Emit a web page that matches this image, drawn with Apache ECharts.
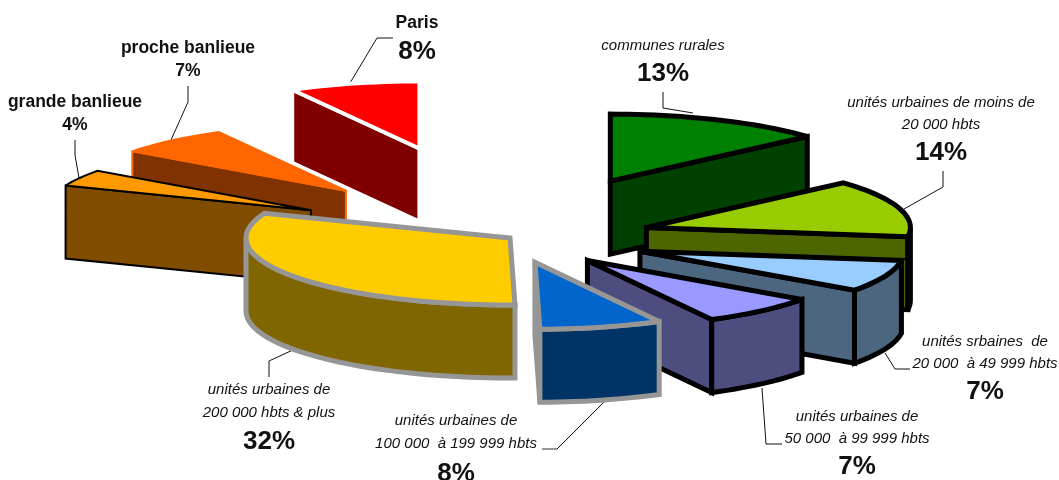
<!DOCTYPE html>
<html>
<head>
<meta charset="utf-8">
<style>html,body{margin:0;padding:0;background:#fff}#chart{width:1059px;height:480px}</style>
<script src="https://cdn.jsdelivr.net/npm/echarts@6/dist/echarts.min.js"></script>
</head>
<body>
<div id="chart"></div>
<script>
// slices clockwise from 12 o'clock
const categories = [
  'communes rurales',
  'unités urbaines de moins de\n20 000 hbts',
  'unités srbaines  de\n20 000  à 49 999 hbts',
  'unités urbaines de\n50 000  à 99 999 hbts',
  'unités urbaines de\n100 000  à 199 999 hbts',
  'unités urbaines de\n200 000 hbts & plus',
  'grande banlieue',
  'proche banlieue',
  'Paris'
];
// the percentages printed on the chart
const shares = [13, 14, 7, 7, 8, 32, 4, 7, 8];
// slice sizes as measured on the picture (the printed ones are rounded)
const sliceSizes = [13.4, 13.8, 7.7, 7.3, 7.5, 31.3, 4, 7, 8];

// how far each slice is pulled out, as a fraction of the radius
const explode = [0.93, 0.54, 0.53, 0.445, 0.375, 0, 0.86, 0.94, 1.38];

const topColors = ['#008000', '#99cc00', '#99ccff', '#9999ff', '#0066cc', '#ffcc00', '#ff9900', '#ff6600', '#ff0000'];
const wallColors = ['#004000', '#4d6600', '#4d6680', '#4d4d80', '#003366', '#806600', '#804d00', '#803300', '#800000'];
const borderColors = ['#000', '#000', '#000', '#000', '#969696', '#969696', '#000', '#ff6600', '#fff'];
const borderWidths = [5, 5, 5, 5, 5, 5, 2, 2, 4];

// projection of the pie
const cx = 510, cy = 238, rx = 264, ry = 67, depth = 73;

const total = sliceSizes.reduce((a, b) => a + b, 0);
let acc = 0;
const startAngles = [], endAngles = [];
sliceSizes.forEach((v) => {
  startAngles.push(acc / total * 360);
  acc += v;
  endAngles.push(acc / total * 360);
});

const rad = (d) => d * Math.PI / 180;
const apexOf = (i) => {
  const mid = rad((startAngles[i] + endAngles[i]) / 2);
  return [cx + explode[i] * rx * Math.sin(mid), cy - explode[i] * ry * Math.cos(mid)];
};

// back slices first
const drawOrder = shares.map((v, i) => i).sort((a, b) => apexOf(a)[1] - apexOf(b)[1]);

// label placement: [x, y of first line, line gap, y of percent]
const labelPos = [
  [663, 46, 0, 74], [941, 103, 22, 153], [985, 342, 22, 392],
  [857, 417, 22, 467], [456, 421, 23, 474], [269, 390, 23, 442],
  [75, 102, 0, 125], [188, 48, 0, 71], [417, 23, 0, 52]
];
const boldName = [false, false, false, false, false, false, true, true, true];
const percentSize = [26, 26, 26, 26, 26, 26, 17.5, 17.5, 26];
const leaders = [
  [[663, 92], [663, 108], [693, 113]],
  [[943, 171], [943, 187], [904, 209]],
  [[885, 353], [895, 369], [910, 369]],
  [[762, 388], [766, 444], [782, 444]],
  [[557, 449], [604, 402]],
  [[295, 349], [269, 361], [269, 377]],
  [[79, 178], [75, 155], [75, 140]],
  [[171, 140], [188, 102], [188, 86]],
  [[350, 83], [377, 38], [393, 38]]
];

function renderSlice(params, api) {
  const i = api.value(0);
  const a0 = startAngles[i], a1 = endAngles[i];
  const apex = apexOf(i);
  const pt = (deg, dz) => [
    apex[0] + rx * Math.sin(rad(deg)),
    apex[1] - ry * Math.cos(rad(deg)) + (dz || 0)
  ];
  const arc = (from, to, dz) => {
    const pts = [];
    const n = Math.max(2, Math.ceil((to - from) / 2));
    for (let k = 0; k <= n; k++) pts.push(pt(from + (to - from) * k / n, dz));
    return pts;
  };
  const down = (p) => [p[0], p[1] + depth];
  const base = {
    fill: wallColors[i],
    stroke: borderColors[i],
    lineWidth: borderWidths[i],
    lineJoin: 'miter',
    miterLimit: 3
  };
  const face = (points, fill) => ({
    type: 'polygon',
    shape: { points: points },
    style: Object.assign({}, base, fill ? { fill: fill } : {})
  });
  const children = [];
  const s = pt(a0), e = pt(a1);
  if (s[0] < apex[0]) children.push(face([apex, s, down(s), down(apex)]));
  if (e[0] > apex[0]) children.push(face([e, apex, down(apex), down(e)]));
  const w0 = Math.max(a0, 90), w1 = Math.min(a1, 270);
  if (w1 > w0) {
    children.push(face(arc(w0, w1).concat(arc(w0, w1, depth).reverse())));
  }
  children.push(face([apex].concat(arc(a0, a1)), topColors[i]));
  return { type: 'group', children: children };
}

const graphicElements = [];
categories.forEach((name, i) => {
  const pos = labelPos[i];
  name.split('\n').forEach((line, k) => {
    graphicElements.push({
      type: 'text',
      x: pos[0],
      y: pos[1] + k * pos[2],
      style: {
        text: line,
        align: 'center',
        verticalAlign: 'middle',
        fill: '#111',
        font: boldName[i]
          ? 'bold 17.5px "Liberation Sans", Arial, sans-serif'
          : 'italic 15px "Liberation Sans", Arial, sans-serif'
      }
    });
  });
  graphicElements.push({
    type: 'text',
    x: pos[0],
    y: pos[3],
    style: {
      text: shares[i] + '%',
      align: 'center',
      verticalAlign: 'middle',
      fill: '#111',
      font: 'bold ' + percentSize[i] + 'px "Liberation Sans", Arial, sans-serif'
    }
  });
  graphicElements.push({
    type: 'polyline',
    shape: { points: leaders[i] },
    style: { stroke: '#111', lineWidth: 1, fill: null }
  });
});
// stub of the 100 000 leader is grey in the original
graphicElements.push({
  type: 'line',
  shape: { x1: 542, y1: 449, x2: 557, y2: 449 },
  style: { stroke: '#969696', lineWidth: 2 }
});

const chart = echarts.init(document.getElementById('chart'));
chart.setOption({
  animation: false,
  backgroundColor: '#fff',
  graphic: { elements: graphicElements },
  series: [
    {
      type: 'custom',
      coordinateSystem: 'none',
      renderItem: renderSlice,
      data: drawOrder.map((i) => ({ name: categories[i], value: [i, shares[i]] }))
    }
  ]
});
</script>
</body>
</html>
